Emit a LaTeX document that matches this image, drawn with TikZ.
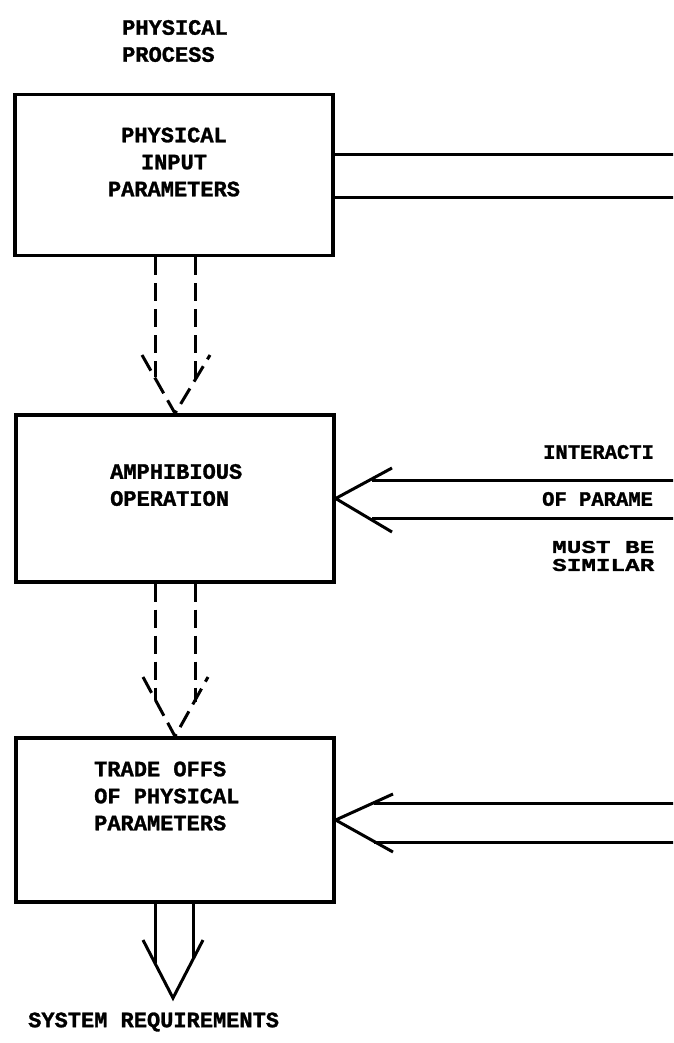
\documentclass[tikz,border=0pt]{standalone}
\usepackage{fontspec}
\newfontfamily\tw{Liberation Mono}[BoldFeatures={FakeBold=1.3}]
\newfontfamily\twwide{Liberation Mono}[FakeStretch=1.35,BoldFeatures={FakeBold=1.3,FakeStretch=1.35}]
\begin{document}
\begin{tikzpicture}[x=1pt,y=-1pt,
  box/.style={draw, line width=3.3pt, minimum width=318pt, inner sep=0pt},
  lbl/.style={font=\tw\bfseries\fontsize{22}{27}\selectfont, inner sep=0pt},
  rlbl/.style={font=\tw\bfseries\fontsize{20.5}{22}\selectfont, inner sep=0pt, anchor=west},
  rlblw/.style={font=\twwide\bfseries\fontsize{18}{18}\selectfont, inner sep=0pt, anchor=west},
  conn/.style={line width=3pt},
  dconn/.style={line width=3pt, dash pattern=on 18pt off 8pt}]
\useasboundingbox (0,0) rectangle (673,1043);
\fill[white] (0,0) rectangle (673,1043);
\clip (0,0) rectangle (673,1043);

% boxes
\node[box, minimum height=161pt] (b1) at (174,175) {};
\node[box, minimum height=167pt] (b2) at (175,498.5) {};
\node[box, minimum height=164pt] (b3) at (175,820) {};

% texts
\node[lbl, align=left, anchor=west] (hdr) at (122,41) {PHYSICAL\\PROCESS};
\node[lbl, align=center] (t1) at (174,162) {PHYSICAL\\INPUT\\PARAMETERS};
\node[lbl, align=left, anchor=west] (t2) at (110,485) {AMPHIBIOUS\\OPERATION};
\node[lbl, align=left, anchor=west] (t3) at (94,796) {TRADE OFFS\\OF PHYSICAL\\PARAMETERS};
\node[lbl, anchor=west] (sys) at (28,1022) {SYSTEM REQUIREMENTS};
\node[rlbl] (int) at (543,452) {INTERACTI};
\node[rlbl] (ofp) at (542,499) {OF PARAME};
\node[rlblw] (must) at (552,547) {MUST BE};
\node[rlblw] (sim) at (552,565) {SIMILAR};

% lines leaving box 1 to the right
\coordinate (r1a) at (675,155);
\coordinate (r1b) at (675,197);
\draw[conn] (b1.east |- r1a) -- (r1a);
\draw[conn] (b1.east |- r1b) -- (r1b);

% dashed hollow arrow b1 -> b2
\coordinate (d1la) at (155,377);
\coordinate (d1ra) at (195,380);
\coordinate (d1lo) at (142,355);
\coordinate (d1ro) at (210,355);
\draw[dconn] (b1.south -| d1la) -- (d1la);
\draw[dconn] (b1.south -| d1ra) -- (d1ra);
\draw[dconn] (d1lo) -- (b2.north) -- (d1ro);

% dashed hollow arrow b2 -> b3
\coordinate (d2la) at (155,700);
\coordinate (d2ra) at (195,702);
\coordinate (d2lo) at (143,677);
\coordinate (d2ro) at (208,677);
\draw[dconn] (b2.south -| d2la) -- (d2la);
\draw[dconn] (b2.south -| d2ra) -- (d2ra);
\draw[dconn] (d2lo) -- (b3.north) -- (d2ro);

% incoming arrows to box 2
\coordinate (r2a) at (675,480);
\coordinate (r2b) at (675,518);
\coordinate (r2as) at (372,480);
\coordinate (r2bs) at (372,518);
\coordinate (r2ua) at (392,468);
\coordinate (r2la) at (392,532);
\draw[conn] (r2a) -- (r2as);
\draw[conn] (r2b) -- (r2bs);
\draw[conn] (r2ua) -- (b2.east) -- (r2la);

% incoming arrows to box 3
\coordinate (r3a) at (675,803);
\coordinate (r3b) at (675,842);
\coordinate (r3as) at (374,803);
\coordinate (r3bs) at (374,842);
\coordinate (r3ua) at (393,794);
\coordinate (r3la) at (393,852);
\draw[conn] (r3a) -- (r3as);
\draw[conn] (r3b) -- (r3bs);
\draw[conn] (r3ua) -- (b3.east) -- (r3la);

% solid hollow arrow out of box 3
\coordinate (s3la) at (155,963);
\coordinate (s3ra) at (193,959);
\coordinate (s3lo) at (143,940);
\coordinate (s3ro) at (203,940);
\coordinate (s3tip) at (173,998);
\draw[conn] (b3.south -| s3la) -- (s3la);
\draw[conn] (b3.south -| s3ra) -- (s3ra);
\draw[conn] (s3lo) -- (s3tip) -- (s3ro);
\end{tikzpicture}
\end{document}
